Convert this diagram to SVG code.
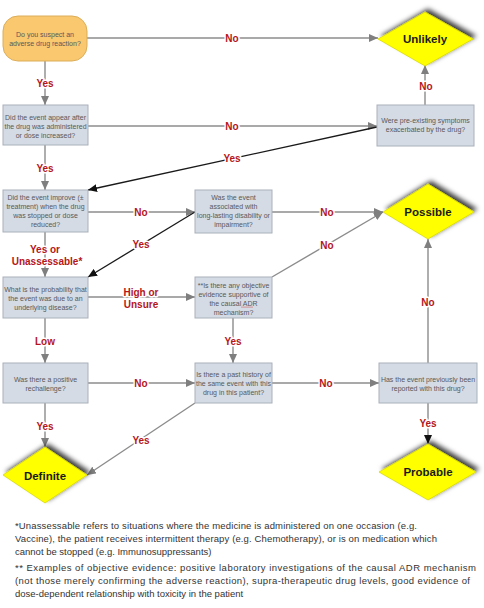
<svg xmlns="http://www.w3.org/2000/svg" width="484" height="608" viewBox="0 0 484 608">
<style>
.box{fill:#d4dbe5;stroke:#a9b1bb;stroke-width:1}
.start{fill:#f9c86f;stroke:#dcae5a;stroke-width:1}
.dia{fill:#ffff00;stroke:#d8d800;stroke-width:0.8}
.nt{font-family:"Liberation Sans",Arial,sans-serif;font-size:7px;fill:#595959;text-anchor:middle}
.dt{font-family:"Liberation Sans",Arial,sans-serif;font-size:11.5px;font-weight:bold;fill:#1a1a1a;text-anchor:middle}
.ln{stroke:#8c8c8c;stroke-width:1.4;fill:none}
.lb{stroke:#1a1a1a;stroke-width:1.3;fill:none}
.lab{font-family:"Liberation Sans",Arial,sans-serif;font-size:10px;font-weight:bold;fill:#b5161b;text-anchor:middle;stroke:#fff;stroke-width:3;paint-order:stroke;stroke-linejoin:round}
.fn{font-family:"Liberation Sans",Arial,sans-serif;font-size:9.5px;fill:#333}
</style>
<defs>
<marker id="ag" markerUnits="userSpaceOnUse" markerWidth="9" markerHeight="8" refX="9" refY="4" orient="auto"><path d="M0,0 L9,4 L0,8 z" fill="#7f7f7f"/></marker>
<marker id="ab" markerUnits="userSpaceOnUse" markerWidth="9" markerHeight="8" refX="9" refY="4" orient="auto"><path d="M0,0 L9,4 L0,8 z" fill="#111"/></marker>
<filter id="sh" x="-30%" y="-40%" width="160%" height="180%"><feDropShadow dx="3" dy="-3" stdDeviation="2.5" flood-color="#000" flood-opacity="0.75"/></filter>
</defs>
<rect width="484" height="608" fill="#fff"/>

<g id="connectors">
<line class="ln" x1="87" y1="38" x2="378" y2="38" marker-end="url(#ag)"/>
<line class="ln" x1="45" y1="61" x2="45" y2="105" marker-end="url(#ag)"/>
<line class="ln" x1="88" y1="126" x2="377" y2="126" marker-end="url(#ag)"/>
<line class="ln" x1="425" y1="105" x2="425" y2="65" marker-end="url(#ag)"/>
<line class="lb" x1="377" y1="127" x2="88" y2="190" marker-end="url(#ab)"/>
<line class="ln" x1="45" y1="145" x2="45" y2="190" marker-end="url(#ag)"/>
<line class="ln" x1="88" y1="212" x2="195" y2="212" marker-end="url(#ag)"/>
<line class="lb" x1="195" y1="212" x2="88" y2="277" marker-end="url(#ab)"/>
<line class="ln" x1="45" y1="232" x2="45" y2="277" marker-end="url(#ag)"/>
<line class="ln" x1="88" y1="297" x2="195" y2="297" marker-end="url(#ag)"/>
<line class="ln" x1="272" y1="212" x2="383" y2="212" marker-end="url(#ag)"/>
<line class="ln" x1="272" y1="277" x2="383" y2="212" marker-end="url(#ag)"/>
<line class="ln" x1="233" y1="318" x2="233" y2="363" marker-end="url(#ag)"/>
<line class="ln" x1="45" y1="318" x2="45" y2="363" marker-end="url(#ag)"/>
<line class="ln" x1="88" y1="383" x2="195" y2="383" marker-end="url(#ag)"/>
<line class="ln" x1="45" y1="403" x2="45" y2="447" marker-end="url(#ag)"/>
<line class="ln" x1="195" y1="403" x2="87" y2="475" marker-end="url(#ag)"/>
<line class="ln" x1="272" y1="383" x2="379" y2="383" marker-end="url(#ag)"/>
<line class="ln" x1="428" y1="363" x2="428" y2="239" marker-end="url(#ag)"/>
<line class="ln" x1="428" y1="403" x2="428" y2="444" marker-end="url(#ab)"/>

<text class="lab" x="232" y="42">No</text>
<text class="lab" x="45" y="87">Yes</text>
<text class="lab" x="232" y="130">No</text>
<text class="lab" x="426" y="90">No</text>
<text class="lab" x="232" y="162">Yes</text>
<text class="lab" x="45" y="172">Yes</text>
<text class="lab" x="141" y="216">No</text>
<text class="lab" x="141" y="248">Yes</text>
<text class="lab" x="45" y="253">Yes or</text>
<text class="lab" x="47" y="265">Unassessable*</text>
<text class="lab" x="141" y="296">High or</text>
<text class="lab" x="141" y="308">Unsure</text>
<text class="lab" x="327" y="216">No</text>
<text class="lab" x="327" y="249">No</text>
<text class="lab" x="233" y="345">Yes</text>
<text class="lab" x="45" y="345">Low</text>
<text class="lab" x="141" y="387">No</text>
<text class="lab" x="45" y="430">Yes</text>
<text class="lab" x="141" y="444">Yes</text>
<text class="lab" x="326" y="387">No</text>
<text class="lab" x="428" y="306">No</text>
<text class="lab" x="428" y="427">Yes</text>
</g>

<g id="n-start">
<rect class="start" x="3" y="16" width="84" height="45" rx="15" ry="15"/>
<text class="nt" x="45" y="36.5">Do you suspect an</text>
<text class="nt" x="45" y="45.5">adverse drug reaction?</text>
</g>
<g id="n-appear">
<rect class="box" x="3" y="105" width="85" height="40"/>
<text class="nt" x="45.5" y="119.5">Did the event appear after</text>
<text class="nt" x="45.5" y="128.5">the drug was administered</text>
<text class="nt" x="45.5" y="137.5">or dose increased?</text>
</g>
<g id="n-improve">
<rect class="box" x="3" y="190" width="85" height="42"/>
<text class="nt" x="45.5" y="199.5">Did the event improve (±</text>
<text class="nt" x="45.5" y="208.5">treatment) when the drug</text>
<text class="nt" x="45.5" y="218">was stopped or dose</text>
<text class="nt" x="45.5" y="227">reduced?</text>
</g>
<g id="n-probability">
<rect class="box" x="3" y="277" width="85" height="41"/>
<text class="nt" x="45.5" y="291.5">What is the probability that</text>
<text class="nt" x="45.5" y="300.5">the event was due to an</text>
<text class="nt" x="45.5" y="309.5">underlying disease?</text>
</g>
<g id="n-rechallenge">
<rect class="box" x="3" y="363" width="85" height="40"/>
<text class="nt" x="45.5" y="381.5">Was there a positive</text>
<text class="nt" x="45.5" y="390.5">rechallenge?</text>
</g>
<g id="n-disability">
<rect class="box" x="195" y="190" width="77" height="43"/>
<text class="nt" x="233.5" y="199.5">Was the event</text>
<text class="nt" x="233.5" y="208.5">associated with</text>
<text class="nt" x="233.5" y="218">long-lasting disability or</text>
<text class="nt" x="233.5" y="227">impairment?</text>
</g>
<g id="n-objective">
<rect class="box" x="195" y="277" width="77" height="41"/>
<text class="nt" x="233.5" y="287.5">**Is there any objective</text>
<text class="nt" x="233.5" y="296.5">evidence supportive of</text>
<text class="nt" x="233.5" y="305.5">the causal ADR</text>
<text class="nt" x="233.5" y="314.5">mechanism?</text>
<path d="M241,307.5 l1,-0.8 l1,0.8 l1,-0.8 l1,0.8 l1,-0.8 l1,0.8 l1,-0.8 l1,0.8 l1,-0.8 l1,0.8 l1,-0.8 l1,0.8" fill="none" stroke="#d04040" stroke-width="0.5"/>
</g>
<g id="n-history">
<rect class="box" x="195" y="363" width="77" height="40"/>
<text class="nt" x="233.5" y="376.5">Is there a past history of</text>
<text class="nt" x="233.5" y="385.5">the same event with this</text>
<text class="nt" x="233.5" y="394.5">drug in this patient?</text>
</g>
<g id="n-preexisting">
<rect class="box" x="377" y="105" width="97" height="41"/>
<text class="nt" x="425.5" y="122.5">Were pre-existing symptoms</text>
<text class="nt" x="425.5" y="131.5">exacerbated by the drug?</text>
</g>
<g id="n-reported">
<rect class="box" x="379" y="363" width="98" height="40"/>
<text class="nt" x="428" y="381.5">Has the event previously been</text>
<text class="nt" x="428" y="390.5">reported with this drug?</text>
</g>

<g id="d-unlikely">
<polygon class="dia" filter="url(#sh)" points="425,12 473,39 425,66 378,39"/>
<text class="dt" x="425" y="43">Unlikely</text>
</g>
<g id="d-possible">
<polygon class="dia" filter="url(#sh)" points="428,184 474,212 428,239 383,212"/>
<text class="dt" x="428" y="216">Possible</text>
</g>
<g id="d-probable">
<polygon class="dia" filter="url(#sh)" points="428,444 476,472 428,500 379,472"/>
<text class="dt" x="428" y="476">Probable</text>
</g>
<g id="d-definite">
<polygon class="dia" filter="url(#sh)" points="45,447 87,475 45,503 3,475"/>
<text class="dt" x="45" y="480">Definite</text>
</g>

<g id="footnotes">
<text class="fn" x="15" y="529" textLength="402">*Unassessable refers to situations where the medicine is administered on one occasion (e.g.</text>
<text class="fn" x="15" y="542" textLength="422">Vaccine), the patient receives intermittent therapy (e.g. Chemotherapy), or is on medication which</text>
<text class="fn" x="15" y="555">cannot be stopped (e.g. Immunosuppressants)</text>
<text class="fn" x="15" y="571" textLength="461">** Examples of objective evidence: positive laboratory investigations of the causal ADR mechanism</text>
<text class="fn" x="15" y="584" textLength="455">(not those merely confirming the adverse reaction), supra-therapeutic drug levels, good evidence of</text>
<text class="fn" x="15" y="597">dose-dependent relationship with toxicity in the patient</text>
</g>
</svg>
